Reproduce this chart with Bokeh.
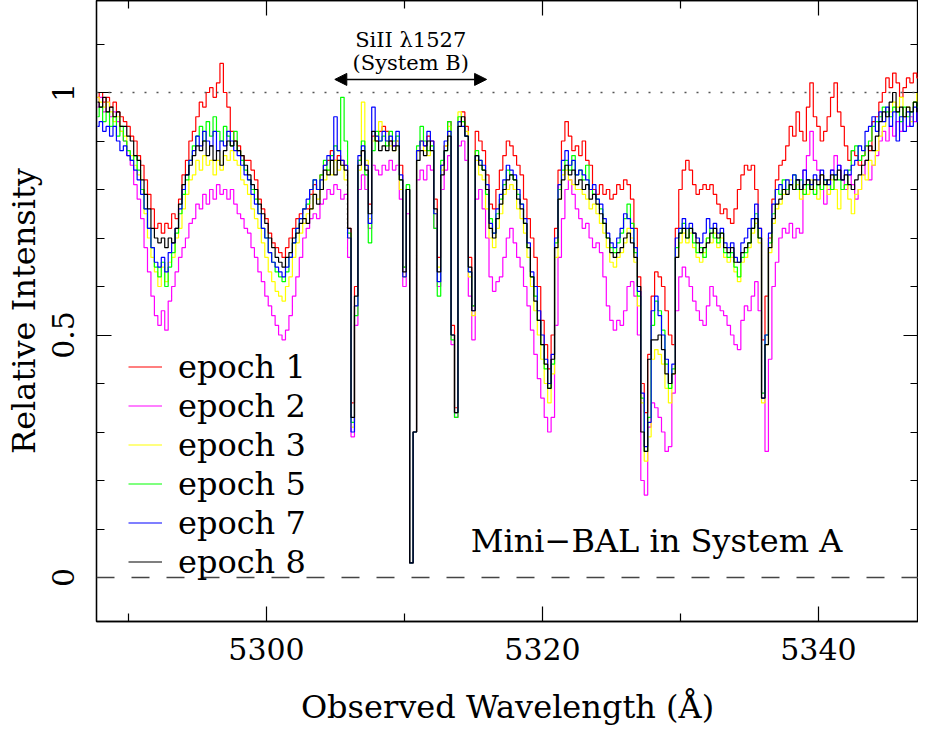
import numpy as np
from bokeh.plotting import figure
from bokeh.models import (Range1d, FixedTicker, LinearAxis, Span, Label, Arrow,
                          NormalHead, Legend, LegendItem, ColumnDataSource)
from bokeh.embed import file_html
from bokeh.resources import INLINE

# ---------------- data ----------------
WL_START = 5287.75   # first pixel centre (Angstrom)
WL_STEP = 0.25       # pixel width (Angstrom)

EPOCH_1 = [
    0.99, 1.00, 0.98, 0.99, 0.97, 0.98, 0.96, 0.95, 0.94, 0.93,
    0.91, 0.90, 0.87, 0.85, 0.82, 0.79, 0.76, 0.72, 0.73, 0.71,
    0.73, 0.72, 0.75, 0.74, 0.78, 0.83, 0.86, 0.90, 0.92, 0.95,
    0.98, 0.97, 1.00, 1.01, 0.99, 1.02, 1.06, 1.00, 0.97, 0.92,
    0.90, 0.89, 0.87, 0.86, 0.86, 0.84, 0.82, 0.78, 0.76, 0.74,
    0.71, 0.69, 0.68, 0.67, 0.66, 0.68, 0.70, 0.72, 0.74, 0.75,
    0.76, 0.76, 0.79, 0.81, 0.80, 0.83, 0.85, 0.86, 0.88, 0.86,
    0.87, 0.86, 0.85, 0.72, 0.36, 0.60, 0.86, 0.88, 0.85, 0.77,
    0.91, 0.90, 0.92, 0.93, 0.92, 0.90, 0.89, 0.90, 0.85, 0.64,
    0.80, 0.03, 0.30, 0.88, 0.90, 0.89, 0.91, 0.90, 0.78, 0.66,
    0.85, 0.89, 0.94, 0.52, 0.35, 0.94, 0.96, 0.93, 0.66, 0.56,
    0.92, 0.90, 0.88, 0.83, 0.77, 0.76, 0.80, 0.84, 0.87, 0.90,
    0.89, 0.87, 0.85, 0.83, 0.78, 0.74, 0.70, 0.66, 0.60, 0.53,
    0.48, 0.43, 0.50, 0.72, 0.84, 0.90, 0.94, 0.91, 0.88, 0.89,
    0.87, 0.90, 0.86, 0.85, 0.80, 0.79, 0.81, 0.79, 0.80, 0.78,
    0.79, 0.81, 0.80, 0.82, 0.81, 0.78, 0.72, 0.62, 0.40, 0.34,
    0.46, 0.58, 0.63, 0.62, 0.60, 0.55, 0.50, 0.48, 0.72, 0.80,
    0.84, 0.86, 0.84, 0.81, 0.79, 0.80, 0.81, 0.80, 0.81, 0.79,
    0.77, 0.75, 0.76, 0.74, 0.73, 0.76, 0.80, 0.83, 0.85, 0.84,
    0.85, 0.80, 0.72, 0.49, 0.58, 0.70, 0.78, 0.82, 0.85, 0.86,
    0.89, 0.93, 0.91, 0.96, 0.92, 0.90, 0.97, 1.02, 0.95, 0.93,
    0.90, 0.92, 0.95, 0.99, 1.02, 0.96, 0.93, 0.89, 0.86, 0.88,
    0.87, 0.85, 0.87, 0.89, 0.88, 0.94, 0.95, 0.98, 1.00, 1.03,
    1.01, 1.04, 1.02, 0.99, 1.01, 1.03, 1.02, 1.04, 1.03, 1.05,
    1.04,
]

EPOCH_2 = [
    0.97, 0.99, 0.96, 0.98, 0.95, 0.96, 0.94, 0.92, 0.90, 0.87,
    0.85, 0.81, 0.78, 0.74, 0.68, 0.63, 0.58, 0.54, 0.52, 0.55,
    0.51, 0.57, 0.60, 0.63, 0.66, 0.68, 0.70, 0.73, 0.74, 0.77,
    0.76, 0.79, 0.77, 0.80, 0.78, 0.81, 0.79, 0.80, 0.78, 0.80,
    0.77, 0.75, 0.74, 0.72, 0.71, 0.68, 0.66, 0.63, 0.61, 0.58,
    0.56, 0.54, 0.52, 0.50, 0.49, 0.51, 0.54, 0.58, 0.62, 0.66,
    0.70, 0.72, 0.74, 0.75, 0.74, 0.77, 0.78, 0.80, 0.79, 0.81,
    0.80, 0.78, 0.79, 0.66, 0.29, 0.52, 0.80, 0.83, 0.80, 0.72,
    0.85, 0.84, 0.83, 0.85, 0.84, 0.86, 0.84, 0.85, 0.78, 0.60,
    0.75, 0.03, 0.30, 0.82, 0.84, 0.82, 0.85, 0.84, 0.72, 0.60,
    0.80, 0.84, 0.87, 0.48, 0.33, 0.89, 0.90, 0.86, 0.58, 0.49,
    0.78, 0.80, 0.76, 0.70, 0.62, 0.59, 0.61, 0.62, 0.66, 0.70,
    0.72, 0.69, 0.66, 0.64, 0.60, 0.56, 0.51, 0.46, 0.41, 0.37,
    0.33, 0.30, 0.33, 0.52, 0.66, 0.74, 0.80, 0.82, 0.79, 0.76,
    0.74, 0.72, 0.73, 0.70, 0.68, 0.69, 0.67, 0.62, 0.56, 0.53,
    0.51, 0.53, 0.52, 0.55, 0.60, 0.61, 0.58, 0.50, 0.20, 0.17,
    0.31, 0.36, 0.35, 0.33, 0.30, 0.26, 0.27, 0.38, 0.55, 0.62,
    0.64, 0.62, 0.60, 0.57, 0.55, 0.53, 0.52, 0.56, 0.60, 0.58,
    0.56, 0.55, 0.54, 0.52, 0.50, 0.48, 0.47, 0.53, 0.56, 0.55,
    0.58, 0.61, 0.55, 0.38, 0.26, 0.45, 0.60, 0.65, 0.70, 0.72,
    0.71, 0.73, 0.70, 0.72, 0.71, 0.84, 0.87, 0.92, 0.86, 0.84,
    0.80, 0.77, 0.80, 0.84, 0.87, 0.85, 0.82, 0.80, 0.83, 0.81,
    0.78, 0.80, 0.83, 0.86, 0.82, 0.85, 0.87, 0.90, 0.92, 0.90,
    0.93, 0.91, 0.94, 0.92, 0.95, 0.93, 0.95, 0.94, 0.96, 0.93,
    0.92,
]

EPOCH_3 = [
    0.99, 0.98, 0.97, 0.98, 0.96, 0.94, 0.95, 0.92, 0.91, 0.88,
    0.87, 0.85, 0.83, 0.80, 0.75, 0.70, 0.66, 0.63, 0.60, 0.64,
    0.61, 0.65, 0.66, 0.70, 0.72, 0.76, 0.79, 0.82, 0.83, 0.86,
    0.84, 0.87, 0.85, 0.86, 0.83, 0.86, 0.84, 0.87, 0.86, 0.88,
    0.86, 0.85, 0.82, 0.81, 0.79, 0.76, 0.74, 0.72, 0.69, 0.66,
    0.63, 0.61, 0.59, 0.58, 0.57, 0.60, 0.62, 0.66, 0.69, 0.71,
    0.73, 0.75, 0.76, 0.79, 0.78, 0.80, 0.82, 0.84, 0.83, 0.86,
    0.84, 0.85, 0.82, 0.70, 0.31, 0.56, 0.84, 0.98, 0.86, 0.74,
    0.90, 0.91, 0.94, 0.92, 0.90, 0.89, 0.88, 0.90, 0.80, 0.62,
    0.80, 0.03, 0.30, 0.88, 0.90, 0.88, 0.87, 0.89, 0.75, 0.64,
    0.84, 0.89, 0.93, 0.50, 0.34, 0.96, 0.94, 0.92, 0.62, 0.54,
    0.86, 0.83, 0.82, 0.76, 0.70, 0.68, 0.72, 0.75, 0.79, 0.80,
    0.81, 0.80, 0.76, 0.74, 0.71, 0.66, 0.60, 0.55, 0.50, 0.45,
    0.40, 0.36, 0.42, 0.66, 0.78, 0.83, 0.84, 0.82, 0.81, 0.80,
    0.80, 0.79, 0.78, 0.76, 0.77, 0.75, 0.73, 0.71, 0.68, 0.65,
    0.64, 0.66, 0.67, 0.69, 0.72, 0.70, 0.65, 0.56, 0.36, 0.24,
    0.29, 0.45, 0.47, 0.46, 0.44, 0.39, 0.36, 0.42, 0.66, 0.69,
    0.71, 0.69, 0.71, 0.68, 0.66, 0.65, 0.67, 0.70, 0.69, 0.71,
    0.68, 0.70, 0.66, 0.65, 0.66, 0.63, 0.61, 0.65, 0.66, 0.68,
    0.71, 0.73, 0.69, 0.36, 0.48, 0.67, 0.73, 0.76, 0.77, 0.79,
    0.80, 0.82, 0.80, 0.81, 0.78, 0.80, 0.79, 0.82, 0.80, 0.78,
    0.83, 0.81, 0.79, 0.82, 0.80, 0.76, 0.80, 0.81, 0.78, 0.75,
    0.79, 0.80, 0.83, 0.82, 0.86, 0.85, 0.88, 0.91, 0.93, 0.95,
    0.96, 0.98, 0.97, 0.99, 0.95, 0.97, 0.94, 0.98, 1.00, 0.95,
    0.93,
]

EPOCH_5 = [
    0.95, 0.97, 0.94, 0.96, 0.93, 0.95, 0.91, 0.93, 0.90, 0.88,
    0.86, 0.87, 0.84, 0.80, 0.76, 0.72, 0.68, 0.64, 0.62, 0.65,
    0.60, 0.64, 0.67, 0.71, 0.75, 0.79, 0.82, 0.86, 0.89, 0.91,
    0.93, 0.90, 0.94, 0.91, 0.95, 0.92, 0.90, 0.93, 0.91, 0.89,
    0.92, 0.88, 0.86, 0.84, 0.82, 0.80, 0.78, 0.75, 0.72, 0.70,
    0.67, 0.65, 0.63, 0.62, 0.61, 0.63, 0.66, 0.69, 0.72, 0.74,
    0.76, 0.77, 0.80, 0.82, 0.80, 0.83, 0.86, 0.84, 0.87, 0.89,
    0.88, 0.99, 0.90, 0.71, 0.32, 0.54, 0.86, 0.90, 0.83, 0.69,
    0.88, 0.92, 0.90, 0.91, 0.89, 0.92, 0.90, 0.91, 0.82, 0.64,
    0.81, 0.03, 0.30, 0.89, 0.93, 0.90, 0.88, 0.89, 0.72, 0.58,
    0.86, 0.88, 0.94, 0.49, 0.33, 0.95, 0.94, 0.91, 0.63, 0.56,
    0.88, 0.86, 0.84, 0.79, 0.74, 0.71, 0.75, 0.78, 0.81, 0.84,
    0.83, 0.82, 0.79, 0.77, 0.73, 0.68, 0.62, 0.58, 0.53, 0.48,
    0.43, 0.39, 0.44, 0.69, 0.80, 0.84, 0.86, 0.84, 0.87, 0.83,
    0.84, 0.82, 0.85, 0.80, 0.79, 0.78, 0.76, 0.73, 0.70, 0.68,
    0.67, 0.69, 0.71, 0.74, 0.77, 0.73, 0.67, 0.58, 0.37, 0.26,
    0.33, 0.52, 0.57, 0.55, 0.51, 0.44, 0.39, 0.43, 0.68, 0.71,
    0.73, 0.70, 0.72, 0.69, 0.67, 0.68, 0.66, 0.70, 0.72, 0.70,
    0.69, 0.71, 0.67, 0.66, 0.67, 0.64, 0.62, 0.66, 0.67, 0.69,
    0.72, 0.75, 0.70, 0.38, 0.50, 0.69, 0.75, 0.80, 0.79, 0.82,
    0.80, 0.81, 0.83, 0.80, 0.82, 0.79, 0.81, 0.80, 0.79, 0.81,
    0.80, 0.82, 0.81, 0.80, 0.83, 0.82, 0.80, 0.81, 0.84, 0.88,
    0.89, 0.86, 0.87, 0.89, 0.90, 0.93, 0.94, 0.95, 0.97, 0.96,
    0.95, 0.97, 0.96, 0.94, 0.97, 0.95, 0.96, 0.98, 0.97, 0.96,
    0.97,
]

EPOCH_7 = [
    0.93, 0.94, 0.92, 0.93, 0.91, 0.93, 0.90, 0.88, 0.89, 0.87,
    0.86, 0.84, 0.82, 0.79, 0.76, 0.72, 0.68, 0.65, 0.64, 0.66,
    0.63, 0.67, 0.69, 0.72, 0.76, 0.80, 0.83, 0.86, 0.88, 0.91,
    0.89, 0.92, 0.90, 0.89, 0.92, 0.88, 0.90, 0.89, 0.92, 0.90,
    0.88, 0.87, 0.85, 0.83, 0.82, 0.79, 0.77, 0.75, 0.72, 0.70,
    0.67, 0.65, 0.64, 0.63, 0.62, 0.64, 0.66, 0.69, 0.72, 0.74,
    0.76, 0.78, 0.80, 0.82, 0.80, 0.82, 0.85, 0.87, 0.86, 0.95,
    0.88, 0.86, 0.85, 0.70, 0.30, 0.56, 0.87, 0.89, 0.85, 0.73,
    0.97, 0.91, 0.90, 0.92, 0.90, 0.91, 0.89, 0.92, 0.83, 0.62,
    0.80, 0.03, 0.30, 0.88, 0.90, 0.89, 0.92, 0.90, 0.75, 0.61,
    0.85, 0.90, 0.92, 0.50, 0.34, 0.94, 0.93, 0.91, 0.63, 0.55,
    0.87, 0.86, 0.85, 0.81, 0.73, 0.71, 0.76, 0.79, 0.82, 0.85,
    0.84, 0.83, 0.80, 0.77, 0.74, 0.69, 0.63, 0.60, 0.55, 0.50,
    0.45, 0.40, 0.46, 0.70, 0.81, 0.86, 0.88, 0.85, 0.86, 0.83,
    0.84, 0.83, 0.82, 0.80, 0.81, 0.78, 0.77, 0.74, 0.71, 0.69,
    0.68, 0.70, 0.72, 0.75, 0.74, 0.72, 0.68, 0.59, 0.38, 0.27,
    0.32, 0.55, 0.58, 0.54, 0.50, 0.45, 0.40, 0.44, 0.70, 0.72,
    0.74, 0.72, 0.73, 0.71, 0.70, 0.69, 0.71, 0.74, 0.72, 0.73,
    0.71, 0.72, 0.69, 0.68, 0.69, 0.66, 0.65, 0.69, 0.70, 0.72,
    0.74, 0.77, 0.72, 0.37, 0.50, 0.71, 0.77, 0.80, 0.81, 0.80,
    0.82, 0.81, 0.83, 0.82, 0.80, 0.84, 0.82, 0.81, 0.83, 0.82,
    0.84, 0.82, 0.81, 0.84, 0.83, 0.85, 0.82, 0.84, 0.83, 0.85,
    0.86, 0.89, 0.88, 0.92, 0.93, 0.95, 0.92, 0.96, 0.94, 0.97,
    0.93, 0.96, 0.90, 0.95, 0.92, 0.96, 0.93, 0.97, 0.94, 0.98,
    0.96,
]

EPOCH_8 = [
    0.98, 0.97, 0.99, 0.96, 0.97, 0.95, 0.96, 0.93, 0.93, 0.91,
    0.90, 0.87, 0.86, 0.82, 0.79, 0.76, 0.72, 0.70, 0.69, 0.70,
    0.68, 0.70, 0.69, 0.72, 0.77, 0.81, 0.83, 0.85, 0.87, 0.89,
    0.88, 0.90, 0.87, 0.89, 0.86, 0.88, 0.85, 0.88, 0.90, 0.89,
    0.90, 0.88, 0.87, 0.85, 0.83, 0.81, 0.80, 0.77, 0.75, 0.73,
    0.70, 0.68, 0.66, 0.65, 0.64, 0.66, 0.67, 0.70, 0.71, 0.73,
    0.74, 0.73, 0.76, 0.79, 0.77, 0.80, 0.84, 0.83, 0.86, 0.83,
    0.86, 0.85, 0.84, 0.72, 0.33, 0.58, 0.85, 0.88, 0.84, 0.75,
    0.92, 0.90, 0.88, 0.89, 0.88, 0.90, 0.88, 0.89, 0.82, 0.63,
    0.80, 0.03, 0.30, 0.86, 0.88, 0.87, 0.90, 0.88, 0.76, 0.63,
    0.83, 0.88, 0.91, 0.50, 0.34, 0.93, 0.95, 0.91, 0.64, 0.55,
    0.87, 0.85, 0.84, 0.80, 0.72, 0.70, 0.74, 0.77, 0.80, 0.82,
    0.83, 0.82, 0.78, 0.76, 0.73, 0.68, 0.62, 0.57, 0.53, 0.48,
    0.44, 0.39, 0.45, 0.68, 0.78, 0.82, 0.85, 0.83, 0.84, 0.81,
    0.82, 0.80, 0.81, 0.78, 0.79, 0.77, 0.75, 0.73, 0.70, 0.67,
    0.66, 0.67, 0.68, 0.70, 0.71, 0.69, 0.66, 0.60, 0.30, 0.26,
    0.45, 0.49, 0.49, 0.50, 0.47, 0.42, 0.40, 0.42, 0.66, 0.71,
    0.72, 0.70, 0.72, 0.71, 0.69, 0.67, 0.68, 0.69, 0.71, 0.72,
    0.70, 0.71, 0.68, 0.67, 0.68, 0.65, 0.65, 0.67, 0.68, 0.69,
    0.72, 0.74, 0.70, 0.37, 0.48, 0.68, 0.74, 0.77, 0.78, 0.80,
    0.79, 0.81, 0.80, 0.82, 0.80, 0.81, 0.82, 0.80, 0.82, 0.81,
    0.83, 0.81, 0.82, 0.83, 0.82, 0.84, 0.82, 0.83, 0.81, 0.80,
    0.82, 0.83, 0.85, 0.86, 0.89, 0.88, 0.91, 0.94, 0.96, 0.95,
    0.98, 1.00, 0.96, 0.97, 0.95, 0.97, 0.96, 0.98, 0.96, 0.97,
    0.97,
]

SERIES = [("epoch 1", EPOCH_1, "#ff0000"),
          ("epoch 2", EPOCH_2, "#ff00ff"),
          ("epoch 3", EPOCH_3, "#ffff00"),
          ("epoch 5", EPOCH_5, "#00ff00"),
          ("epoch 7", EPOCH_7, "#0000ff"),
          ("epoch 8", EPOCH_8, "#000000")]

X_MAJOR = [5300, 5320, 5340]
X_MINOR = [5290, 5310, 5330]
Y_MAJOR = [0, 0.5, 1]
Y_MINOR = [-0.1, 0.1, 0.2, 0.3, 0.4, 0.6, 0.7, 0.8, 0.9, 1.1]
Y_TICK_LABELS = {0: "0", 0.5: "0.5", 1: "1"}

X_TITLE = "Observed Wavelength (\u00c5)"
Y_TITLE = "Relative Intensity"

CONTINUUM = 1.0
ZERO = 0.0
SIII_SPAN = (5304.95, 5315.95)      # SiII 1527 (System B) marker span
SIII_ARROW_Y = 1.027
SIII_TEXT = ("SiII \u03bb1527", "(System B)")
SIII_TEXT_Y = (1.109, 1.060)
MINIBAL_TEXT = "Mini\u2212BAL in System A"
MINIBAL_POS = (5314.8, 0.076)

FONT = "DejaVu Serif"

# ---------------- figure ----------------
n = len(EPOCH_8)
wavelength = np.round(WL_START + WL_STEP * np.arange(n), 3)
data = {"wl": wavelength}
for name, vals, _ in SERIES:
    data[name.replace(" ", "_")] = vals[:n]
source = ColumnDataSource(data)

p = figure(width=918, height=729, output_backend="svg", toolbar_location=None,
           x_range=Range1d(5287.68, 5347.25), y_range=Range1d(-0.0907, 1.1897),
           min_border_left=96, min_border_right=0, min_border_top=0,
           min_border_bottom=108)
p.xgrid.visible = False
p.ygrid.visible = False
p.outline_line_color = "black"
p.outline_line_width = 1.3
p.background_fill_color = "white"
p.border_fill_color = "white"

xt = FixedTicker(ticks=X_MAJOR, minor_ticks=X_MINOR)
yt = FixedTicker(ticks=Y_MAJOR, minor_ticks=Y_MINOR)


def style_axis(ax):
    ax.major_tick_in = 15
    ax.major_tick_out = 0
    ax.minor_tick_in = 8
    ax.minor_tick_out = 0
    ax.major_tick_line_color = "black"
    ax.minor_tick_line_color = "black"
    ax.major_tick_line_width = 1.2
    ax.minor_tick_line_width = 1.2
    ax.axis_line_color = "black"
    ax.axis_line_width = 1.3
    ax.major_label_text_font = FONT
    ax.major_label_text_font_size = "30px"
    ax.major_label_text_color = "black"
    ax.axis_label_text_font = FONT
    ax.axis_label_text_font_size = "32px"
    ax.axis_label_text_font_style = "normal"
    ax.axis_label_text_color = "black"


xa = p.xaxis[0]
ya = p.yaxis[0]
xa.ticker = xt
ya.ticker = yt
style_axis(xa)
style_axis(ya)
xa.axis_label = X_TITLE
ya.axis_label = Y_TITLE
xa.major_label_standoff = 16
xa.axis_label_standoff = 25
ya.major_label_orientation = "parallel"
ya.major_label_overrides = Y_TICK_LABELS
ya.major_label_standoff = 22
ya.axis_label_standoff = 7

top = LinearAxis(ticker=xt)
right = LinearAxis(ticker=yt)
for ax, ticks in ((top, X_MAJOR), (right, Y_MAJOR)):
    style_axis(ax)
    ax.axis_label = None
    ax.major_label_overrides = {t: "" for t in ticks}
    ax.major_label_text_alpha = 0
    ax.major_label_text_font_size = "0px"
    ax.major_label_standoff = 0
p.add_layout(top, "above")
p.add_layout(right, "right")

# reference levels
p.add_layout(Span(location=CONTINUUM, dimension="width", line_color="#555555",
                  line_dash="2 10", line_width=1.5))
p.add_layout(Span(location=ZERO, dimension="width", line_color="#444444",
                  line_dash="18 17", line_width=1.3))

items = []
for name, vals, color in SERIES:
    r = p.step(x="wl", y=name.replace(" ", "_"), source=source, mode="center",
               line_color=color, line_width=1.2)
    items.append(LegendItem(label=name, renderers=[r]))

legend = Legend(items=items, location=(32, 40), orientation="vertical",
                border_line_alpha=0, background_fill_alpha=0,
                label_text_font=FONT, label_text_font_size="32px",
                label_text_color="black", label_text_baseline="middle",
                glyph_width=34, glyph_height=39, label_height=39,
                label_standoff=16, spacing=0, padding=0, margin=0)
p.add_layout(legend)

# SiII annotation
p.add_layout(Arrow(start=NormalHead(size=12, fill_color="black", line_color="black"),
                   end=NormalHead(size=12, fill_color="black", line_color="black"),
                   x_start=SIII_SPAN[0], x_end=SIII_SPAN[1],
                   y_start=SIII_ARROW_Y, y_end=SIII_ARROW_Y,
                   line_color="black", line_width=1.5))
mid = 0.5 * (SIII_SPAN[0] + SIII_SPAN[1])
for txt, ty in zip(SIII_TEXT, SIII_TEXT_Y):
    p.add_layout(Label(x=mid, y=ty, text=txt, text_align="center",
                       text_baseline="alphabetic", text_font=FONT,
                       text_font_size="21px", text_color="black"))

p.add_layout(Label(x=MINIBAL_POS[0], y=MINIBAL_POS[1], text=MINIBAL_TEXT,
                   text_align="left", text_baseline="alphabetic",
                   text_font=FONT, text_font_size="32px", text_color="black"))

open("out.html", "w").write(file_html(p, INLINE))
